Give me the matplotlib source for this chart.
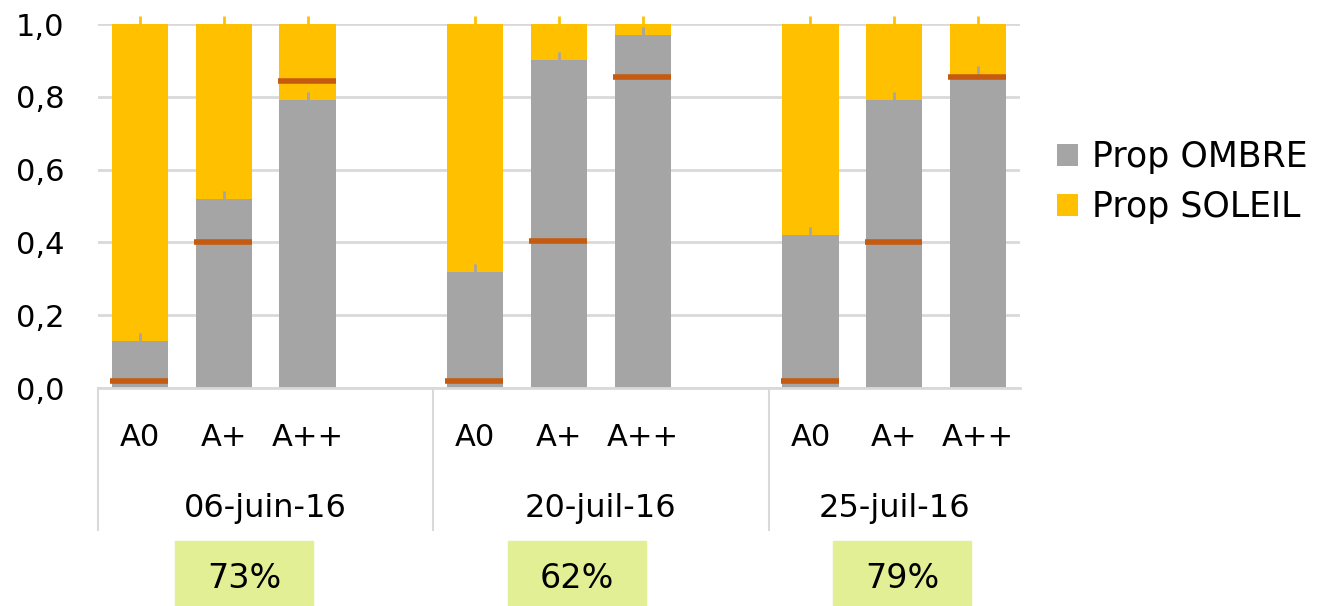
import numpy as np
import matplotlib
matplotlib.use('Agg')
from matplotlib import pyplot as plt
from matplotlib.patches import Rectangle

# Data
dates = ['06-juin-16', '20-juil-16', '25-juil-16']
treatments = ['A0', 'A+', 'A++']
propOmbre = [0.13, 0.52, 0.79, 0.32, 0.90, 0.97, 0.42, 0.79, 0.86]
errOmbre = [0.022, 0.022, 0.022, 0.022, 0.022, 0.022, 0.022, 0.022, 0.025]
errSoleil = [0.022, 0.022, 0.022, 0.022, 0.022, 0.022, 0.022, 0.022, 0.022]
target = [0.018, 0.40, 0.843, 0.018, 0.403, 0.854, 0.018, 0.40, 0.854]
covers = ['73%', '62%', '79%']

GREY = '#A5A5A5'
GOLD = '#FFC000'
RUST = '#C55A11'
GRID = '#D9D9D9'
BOXC = '#E2EF94'
FONT = 'DejaVu Sans'
plt.rcParams['font.family'] = [FONT]

propSoleil = [1 - v for v in propOmbre]
# 4 slots per date, last slot of each group left empty
xs = np.array([g * 4 + k for g in range(len(dates)) for k in range(len(treatments))])
width = 0.67

fig = plt.figure(figsize=(13.17, 6.06), dpi=100)
ax = fig.add_axes([98 / 1317, 1 - 388 / 606, 922 / 1317, 364 / 606])

ax.bar(xs, propOmbre, width, color=GREY, label='Prop OMBRE', zorder=2)
ax.bar(xs, propSoleil, width, bottom=propOmbre, color=GOLD,
       label='Prop SOLEIL', zorder=2)
ax.errorbar(xs, propOmbre, yerr=[np.zeros(len(xs)), errOmbre], fmt='none',
            ecolor=GREY, elinewidth=2, capsize=0, zorder=3, clip_on=False)
ax.errorbar(xs, np.ones(len(xs)), yerr=[np.zeros(len(xs)), errSoleil],
            fmt='none', ecolor=GOLD, elinewidth=2, capsize=0, zorder=3,
            clip_on=False)
ax.hlines(target, xs - width / 2 - 0.02, xs + width / 2, color=RUST, lw=4,
          zorder=4)

ax.set_xlim(-0.5, 10.5)
ax.set_ylim(0, 1)
ax.set_yticks(np.arange(0, 1.01, 0.2))
ax.set_yticklabels(['{:.1f}'.format(t).replace('.', ',') for t in ax.get_yticks()],
                   fontsize=22)
ax.tick_params(axis='y', length=0, pad=24)
ax.tick_params(axis='x', length=0)
ax.set_xticks([])
ax.grid(axis='y', color=GRID, lw=2, zorder=0)
ax.set_axisbelow(True)
for s in ['top', 'right', 'left']:
    ax.spines[s].set_visible(False)
ax.spines['bottom'].set_color(GRID)
ax.spines['bottom'].set_linewidth(2)

# Multi-level category axis
for x, t in zip(xs, treatments * len(dates)):
    ax.text(x, -0.135, t, ha='center', va='center', fontsize=22)
groupEdges = [-0.5, 3.5, 7.5, 10.5]
for g, d in enumerate(dates):
    ax.text((groupEdges[g] + groupEdges[g + 1]) / 2, -0.33, d,
            ha='center', va='center', fontsize=23)
for e in groupEdges[:-1]:
    ax.plot([e, e], [0, -0.39], color=GRID, lw=1.5, clip_on=False)

# Percent boxes under each date
boxX = [175, 508, 833]
for bx, c in zip(boxX, covers):
    fig.patches.append(Rectangle((bx / 1317, 0), 138 / 1317, 65 / 606,
                                 transform=fig.transFigure, color=BOXC))
    fig.text((bx + 69) / 1317, 1 - 578 / 606, c, ha='center', va='center',
             fontsize=24)

ax.legend(loc='center left', bbox_to_anchor=(1.04, 0.566), frameon=False,
          fontsize=25, handlelength=0.6, handleheight=0.6, handletextpad=0.4,
          labelspacing=0.45, borderpad=0, borderaxespad=0)

fig.savefig('out.png', dpi=100)
